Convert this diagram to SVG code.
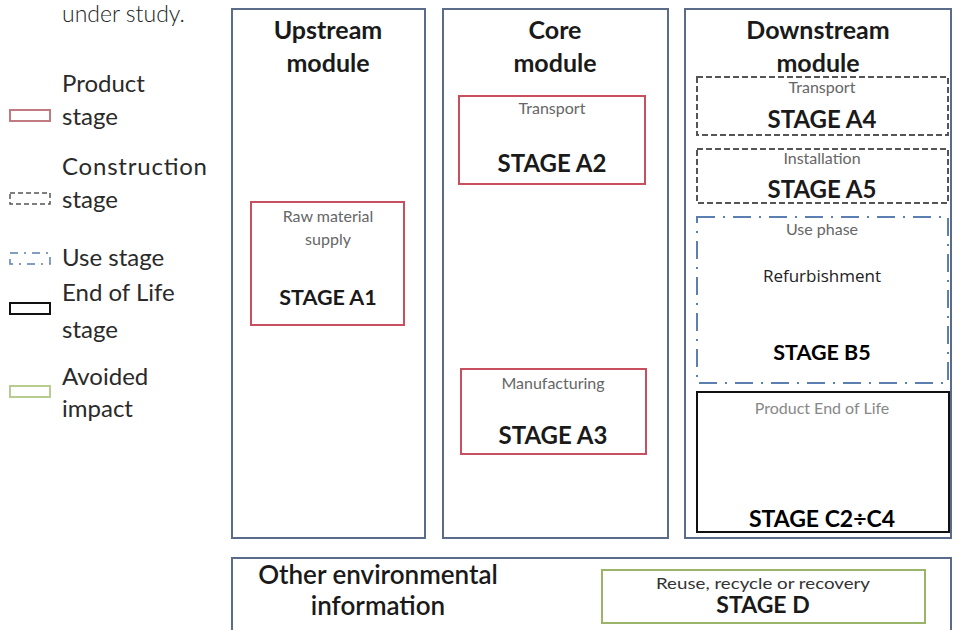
<svg xmlns="http://www.w3.org/2000/svg" width="954" height="630" viewBox="0 0 954 630">
<style>
text{font-family:Lato,"Open Sans","Liberation Sans",sans-serif;text-anchor:middle}
.leg{font-size:24px;fill:#2a2a2a;text-anchor:start}
.title{font-size:25px;font-weight:bold;fill:#1a1a1a}
.small{font-size:16px;fill:#666}
.stage{font-size:24px;font-weight:bold;fill:#1a1a1a}
.module{fill:#fff;stroke:#5b6c8a;stroke-width:2}
.prod{fill:#fff;stroke:#c8505e;stroke-width:2}
.cons{fill:#fff;stroke:#555;stroke-width:2;stroke-dasharray:6 3}
.use{fill:#fff;stroke:#5b7fb0;stroke-width:2;stroke-dasharray:18 8 2 8}
.eol{fill:#fff;stroke:#111;stroke-width:2}
.avoid{fill:#fff;stroke:#9ab56a;stroke-width:2}
</style>
<rect width="954" height="630" fill="#fff"/>
<text x="62" y="22" style="font-size:23px;fill:#222;text-anchor:start;font-weight:300">under study.</text>
<g id="legend">
<rect x="10" y="110" width="40" height="11" class="prod" style="stroke:#c07a80"/>
<text class="leg" x="62" y="92">Product</text>
<text class="leg" x="62" y="125">stage</text>
<rect x="10" y="193" width="40" height="11" class="cons" style="stroke-dasharray:5 3;stroke-width:1.5"/>
<text class="leg" x="62" y="175" textLength="145">Construction</text>
<text class="leg" x="62" y="208">stage</text>
<rect x="10" y="253" width="40" height="11" class="use" style="stroke-dasharray:8 6 2 6;stroke-width:1.5"/>
<text class="leg" x="62" y="266">Use stage</text>
<rect x="10" y="303" width="40" height="11" class="eol"/>
<text class="leg" x="62" y="301">End of Life</text>
<text class="leg" x="62" y="338">stage</text>
<rect x="10" y="386" width="40" height="11" class="avoid" style="stroke:#b8cc90"/>
<text class="leg" x="62" y="385">Avoided</text>
<text class="leg" x="62" y="417">impact</text>
</g>
<g id="upstream">
<rect x="232" y="9" width="193" height="529" class="module"/>
<text class="title" x="328" y="39">Upstream</text>
<text class="title" x="328" y="72">module</text>
</g>
<g id="stageA1">
<rect x="251" y="202" width="153" height="123" class="prod"/>
<text class="small" x="328" y="222">Raw material</text>
<text class="small" x="328" y="245">supply</text>
<text class="stage" x="328" y="305" style="font-size:21.5px">STAGE A1</text>
</g>
<g id="core">
<rect x="443" y="9" width="225" height="529" class="module"/>
<text class="title" x="555" y="39">Core</text>
<text class="title" x="555" y="72">module</text>
</g>
<g id="stageA2">
<rect x="459" y="96" width="186" height="88" class="prod"/>
<text class="small" x="552" y="114">Transport</text>
<text class="stage" x="552" y="172">STAGE A2</text>
</g>
<g id="stageA3">
<rect x="461" y="369" width="185" height="85" class="prod"/>
<text class="small" x="553" y="389">Manufacturing</text>
<text class="stage" x="553" y="444">STAGE A3</text>
</g>
<g id="downstream">
<rect x="685" y="9" width="266" height="529" class="module"/>
<text class="title" x="818" y="39">Downstream</text>
<text class="title" x="818" y="72">module</text>
</g>
<g id="stageA4">
<rect x="697" y="77" width="251" height="58" class="cons"/>
<text class="small" x="822" y="93">Transport</text>
<text class="stage" x="822" y="128">STAGE A4</text>
</g>
<g id="stageA5">
<rect x="697" y="149" width="251" height="54" class="cons"/>
<text class="small" x="822" y="164">Installation</text>
<text class="stage" x="822" y="198">STAGE A5</text>
</g>
<g id="stageB5">
<rect x="697" y="217" width="251" height="166" class="use"/>
<text class="small" x="822" y="235">Use phase</text>
<text class="small" x="822" y="282" style="fill:#222;font-family:'Open Sans',sans-serif;font-size:17px">Refurbishment</text>
<text class="stage" x="822" y="360" style="fill:#000;font-size:21.5px">STAGE B5</text>
</g>
<g id="stageC">
<rect x="697" y="392" width="252" height="140" class="eol"/>
<text class="small" x="822" y="414" style="fill:#888">Product End of Life</text>
<text class="stage" x="822" y="527" style="fill:#000;font-size:23px">STAGE C2÷C4</text>
</g>
<g id="other">
<rect x="232" y="558" width="719" height="90" class="module"/>
<text class="title" x="378" y="584" style="font-weight:600;font-size:26px">Other environmental</text>
<text class="title" x="378" y="615" style="font-weight:600;font-size:26px">information</text>
</g>
<g id="stageD">
<rect x="602" y="570" width="323" height="53" class="avoid"/>
<text class="small" x="763" y="589" style="fill:#333" textLength="214" lengthAdjust="spacingAndGlyphs">Reuse, recycle or recovery</text>
<text class="stage" x="763" y="613" style="font-size:23px">STAGE D</text>
</g>
<g id="connectors"/>
</svg>
